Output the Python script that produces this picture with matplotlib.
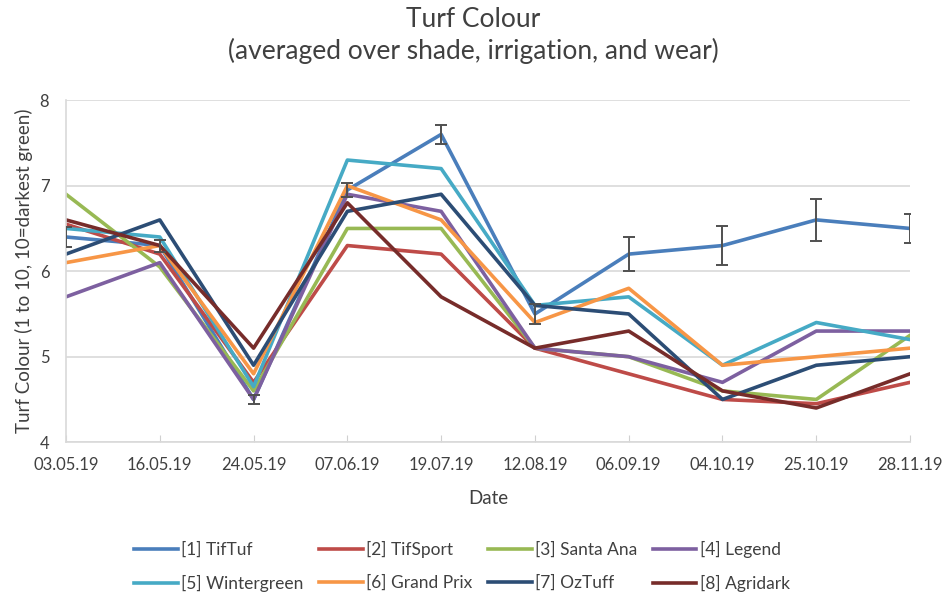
import matplotlib.pyplot as plt
import numpy as np

plt.rcParams['font.family'] = ['Lato', 'DejaVu Sans']

dates = ['03.05.19', '16.05.19', '24.05.19', '07.06.19', '19.07.19',
         '12.08.19', '06.09.19', '04.10.19', '25.10.19', '28.11.19']

tiftuf = [6.4, 6.3, 4.5, 6.95, 7.6, 5.5, 6.2, 6.3, 6.6, 6.5]
tiftuf_err = [0.12, 0.07, 0.05, 0.08, 0.11, 0.12, 0.2, 0.23, 0.25, 0.17]
tifsport = [6.55, 6.2, 4.7, 6.3, 6.2, 5.1, 4.8, 4.5, 4.45, 4.7]
santa_ana = [6.9, 6.05, 4.6, 6.5, 6.5, 5.1, 5.0, 4.6, 4.5, 5.25]
legend_ = [5.7, 6.1, 4.5, 6.9, 6.7, 5.1, 5.0, 4.7, 5.3, 5.3]
wintergreen = [6.5, 6.4, 4.65, 7.3, 7.2, 5.6, 5.7, 4.9, 5.4, 5.2]
grand_prix = [6.1, 6.3, 4.8, 7.0, 6.6, 5.4, 5.8, 4.9, 5.0, 5.1]
oztuff = [6.2, 6.6, 4.9, 6.7, 6.9, 5.6, 5.5, 4.5, 4.9, 5.0]
agridark = [6.6, 6.3, 5.1, 6.8, 5.7, 5.1, 5.3, 4.6, 4.4, 4.8]

series = [
    ('[1] TifTuf', tiftuf, '#4A7EBB'),
    ('[2] TifSport', tifsport, '#BE4B48'),
    ('[3] Santa Ana', santa_ana, '#98B954'),
    ('[4] Legend', legend_, '#7D60A0'),
    ('[5] Wintergreen', wintergreen, '#46AAC5'),
    ('[6] Grand Prix', grand_prix, '#F79646'),
    ('[7] OzTuff', oztuff, '#2C4D75'),
    ('[8] Agridark', agridark, '#772C2A'),
]

fig = plt.figure(figsize=(9.47, 6.0), dpi=100)
ax = fig.add_axes([0.0697, 0.263, 0.8913, 0.570])

x = np.arange(len(dates))
lines = []
for name, vals, col in series:
    ln, = ax.plot(x, vals, color=col, linewidth=2.6, label=name)
    lines.append(ln)

# error bars for TifTuf only
ax.errorbar(x, tiftuf, yerr=tiftuf_err, fmt='none', ecolor='#505050',
            elinewidth=1.4, capsize=4, capthick=1.4, zorder=5)

ax.set_xlim(0, len(dates) - 1)
ax.set_ylim(4, 8)
ax.set_yticks([4, 5, 6, 7, 8])
ax.set_xticks(x)
ax.set_xticklabels(dates, fontsize=12, color='#404040')
ax.tick_params(axis='y', length=0, labelsize=12, labelcolor='#404040', pad=12)
ax.tick_params(axis='x', direction='in', length=5, color='#D0D0D0', pad=11)
ax.grid(axis='y', color='#D9D9D9', linewidth=1.2)
ax.set_axisbelow(True)
for s in ['top', 'right']:
    ax.spines[s].set_visible(False)
for s in ['left', 'bottom']:
    ax.spines[s].set_color('#D9D9D9')
    ax.spines[s].set_linewidth(1.2)

ax.set_xlabel('Date', fontsize=13.5, color='#404040', labelpad=12)
ax.set_ylabel('Turf Colour (1 to 10, 10=darkest green)', fontsize=13.5, color='#404040', labelpad=5)

fig.text(0.5, 0.968, 'Turf Colour', ha='center', va='center', fontsize=19, color='#404040')
fig.text(0.5, 0.915, '(averaged over shade, irrigation, and wear)', ha='center', va='center',
         fontsize=19, color='#404040')

# reorder so the legend reads row by row like the original
order = [0, 4, 1, 5, 2, 6, 3, 7]
fig.legend([lines[i] for i in order], [series[i][0] for i in order],
           loc='upper left', bbox_to_anchor=(0.142, 0.099), ncol=4, frameon=False,
           fontsize=12.5, handlelength=2.5, columnspacing=0.9, labelcolor='#404040',
           handletextpad=0.2, labelspacing=1.0, borderpad=0, borderaxespad=0)

fig.savefig('out.png', dpi=100)
